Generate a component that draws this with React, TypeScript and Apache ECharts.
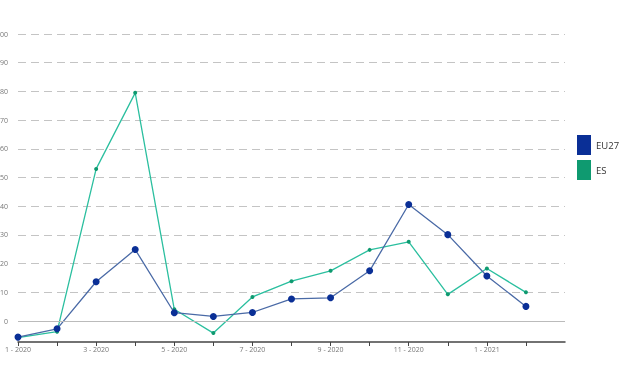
import React, { useEffect, useRef } from "react";
import * as echarts from "echarts";

const categories = [
  "1 - 2020", "2 - 2020", "3 - 2020", "4 - 2020", "5 - 2020", "6 - 2020", "7 - 2020",
  "8 - 2020", "9 - 2020", "10 - 2020", "11 - 2020", "12 - 2020", "1 - 2021", "2 - 2021", "",
];
const eu27 = [-5.6, -2.7, 13.7, 24.9, 2.9, 1.6, 3.0, 7.7, 8.1, 17.5, 40.6, 30.1, 15.7, 5.1];
const es = [-5.8, -3.7, 53.0, 79.5, 4.1, -4.2, 8.4, 13.9, 17.5, 24.8, 27.6, 9.3, 18.3, 10.0];

const FONT = "'Open Sans', 'Noto Sans', sans-serif";

export default function App() {
  const ref = useRef<HTMLDivElement>(null);
  useEffect(() => {
    if (!ref.current) return;
    const chart = echarts.init(ref.current, undefined, { renderer: "svg" });
    chart.setOption({
      animation: false,
      textStyle: { fontFamily: FONT },
      grid: { left: 18, right: 55, top: 34, bottom: 26, outerBoundsMode: "none", containLabel: false },
      legend: {
        orient: "vertical",
        left: 577,
        top: 135,
        padding: 0,
        icon: "rect",
        itemWidth: 14,
        itemHeight: 20,
        itemGap: 5,
        textStyle: { fontSize: 9.5, color: "#333", fontFamily: FONT },
        data: ["EU27", "ES"],
      },
      xAxis: {
        type: "category",
        boundaryGap: false,
        data: categories,
        axisLine: { onZero: false, lineStyle: { color: "#444", width: 1.5 } },
        axisTick: {
          length: 4,
          lineStyle: { color: "#444" },
          interval: (index: number) => index < categories.length - 1,
        },
        axisLabel: { interval: 1, fontSize: 7, color: "#777", margin: 4, fontFamily: FONT },
        splitLine: { show: false },
      },
      yAxis: {
        type: "value",
        min: -7.3,
        max: 100,
        splitNumber: 11,
        axisLine: { show: false },
        axisTick: { show: false },
        axisLabel: {
          fontSize: 7,
          color: "#777",
          margin: 10,
          showMinLabel: false,
          fontFamily: FONT,
          formatter: (v: number) => (Math.round(v) === v ? String(v) : ""),
        },
        splitLine: {
          showMinLine: false,
          lineStyle: { color: "#c4c4c4", type: [8, 5], width: 1 },
        },
      },
      series: [
        {
          name: "EU27",
          type: "line",
          data: eu27,
          symbol: "circle",
          symbolSize: 7,
          itemStyle: { color: "#0a2f96" },
          lineStyle: { color: "#4a6aa6", width: 1.3 },
          z: 3,
          markLine: {
            silent: true,
            symbol: "none",
            label: { show: false },
            lineStyle: { color: "#bbbbbb", type: "solid", width: 1 },
            data: [{ yAxis: 0 }],
          },
        },
        {
          name: "ES",
          type: "line",
          data: es,
          symbol: "circle",
          symbolSize: 4,
          itemStyle: { color: "#0f9a70" },
          lineStyle: { color: "#2bbf9f", width: 1.3 },
          z: 2,
        },
      ],
    });
    return () => chart.dispose();
  }, []);
  return <div ref={ref} style={{ width: 620, height: 368, position: "fixed", left: 0, top: 0 }} />;
}
